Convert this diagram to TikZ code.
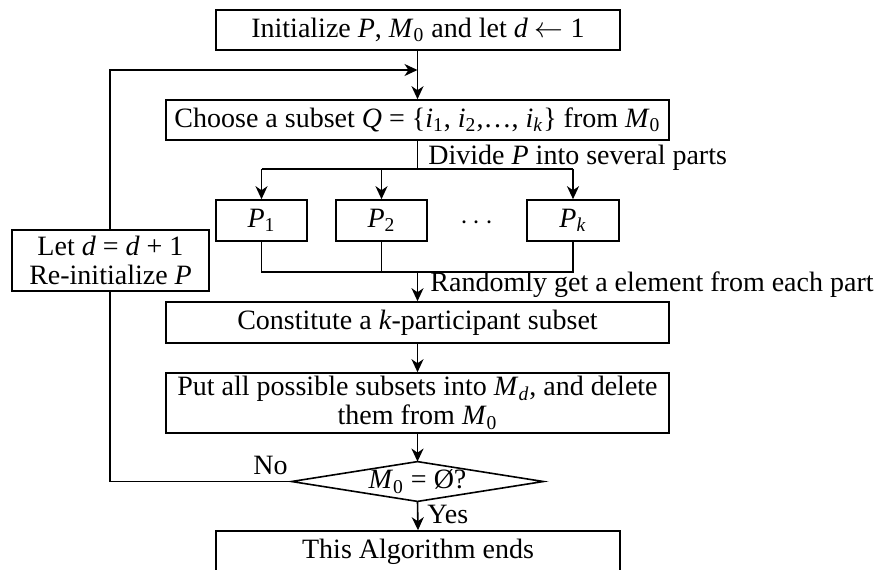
\documentclass[tikz,border=0pt]{standalone}
\usepackage{fontspec}
\setmainfont{Liberation Serif}
\usetikzlibrary{arrows.meta}
\newcommand{\iv}[1]{\textit{#1}}
\newcommand{\mysub}[1]{\textsubscript{#1}}
\tikzset{
  box/.style={draw,line width=0.8pt,inner sep=0pt,align=center,fill=white},
  lbl/.style={inner sep=0pt,anchor=base west},
  conn/.style={line width=0.8pt},
  arr/.style={line width=0.8pt,-{Stealth[length=6.5pt,width=6pt,inset=2pt]}}
}
\begin{document}
\begin{tikzpicture}[x=0.5pt,y=-0.5pt,font=\fontsize{14}{14.5}\selectfont]
\useasboundingbox (0,0) rectangle (882,569);
% nodes
\node[box,minimum width=202pt,minimum height=20pt] (init) at (418,30)
  {Initialize \iv{P}, \iv{M}\mysub{0} and let \iv{d} $\leftarrow$ 1};
\node[box,minimum width=251.5pt,minimum height=20pt] (choose) at (417.5,120)
  {Choose a subset \iv{Q} = \{\iv{i}\mysub{1}, \iv{i}\mysub{2},…, \iv{i}\mysub{\iv{k}}\} from \iv{M}\mysub{0}};
\node[box,minimum width=45.5pt,minimum height=20.5pt] (P1) at (261.5,220.5) {\iv{P}\mysub{1}};
\node[box,minimum width=45.5pt,minimum height=20.5pt] (P2) at (381.5,220.5) {\iv{P}\mysub{2}};
\node[box,minimum width=46pt,minimum height=20.5pt] (Pk) at (573,220.5) {\iv{P}\mysub{\iv{k}}};
\node[inner sep=0pt] (dots) at (477,223) {$\cdots$};
\node[box,minimum width=251.5pt,minimum height=20.5pt] (cons) at (417.5,322.5)
  {Constitute a \iv{k}-participant subset};
\node[box,minimum width=251.5pt,minimum height=30pt] (put) at (417.5,403)
  {Put all possible subsets into \iv{M}\mysub{\iv{d}}, and delete\\ them from \iv{M}\mysub{0}};
\node[inner sep=0pt,minimum width=125.5pt,minimum height=19.5pt] (dia) at (417.5,481.5)
  {\iv{M}\mysub{0} = Ø?};
\draw[conn,line join=miter] (dia.north) -- (dia.east) -- (dia.south) -- (dia.west) -- cycle;
\node[box,minimum width=202pt,minimum height=21pt] (end) at (418,552)
  {This Algorithm ends};
% labels
\node[lbl] (ldiv) at (428,164) {Divide \iv{P} into several parts};
\node[lbl] (lrand) at (430,291) {Randomly get a element from each part};
\node[lbl] (lno) at (253,474) {No};
\node[lbl] (lyes) at (427,523) {Yes};
% coordinates
\coordinate (sp) at (417.5,169);
\coordinate (mg) at (417.5,272);
\coordinate (j1) at (417.5,70);
% feedback loop
\draw[conn] (dia.west) -- (110,481.5) coordinate (fl) -- (fl |- 0,291) coordinate (lb);
\node[box,minimum width=98.5pt,minimum height=30.5pt] (let) at (110.5,260.5)
  {Let \iv{d} = \iv{d} + 1\\ Re-initialize \iv{P}};
\draw[arr] (let.north -| fl) |- (j1);
% main flow
\draw[arr] (init.south -| j1) -- (choose.north -| j1);
\draw[conn] (choose.south) -- (sp);
\draw[conn] (P1.north |- sp) -- (Pk.north |- sp);
\draw[arr] (P1.north |- sp) -- (P1.north);
\draw[arr] (P2.north |- sp) -- (P2.north);
\draw[arr] (Pk.north |- sp) -- (Pk.north);
\draw[conn] (P1.south) -- (P1.south |- mg) -- (Pk.south |- mg) -- (Pk.south);
\draw[conn] (P2.south) -- (P2.south |- mg);
\draw[arr] (mg) -- (cons.north);
\draw[arr] (cons.south) -- (put.north);
\draw[arr] (put.south) -- (dia.north);
\draw[arr] (dia.south) -- (end.north);
\end{tikzpicture}
\end{document}
